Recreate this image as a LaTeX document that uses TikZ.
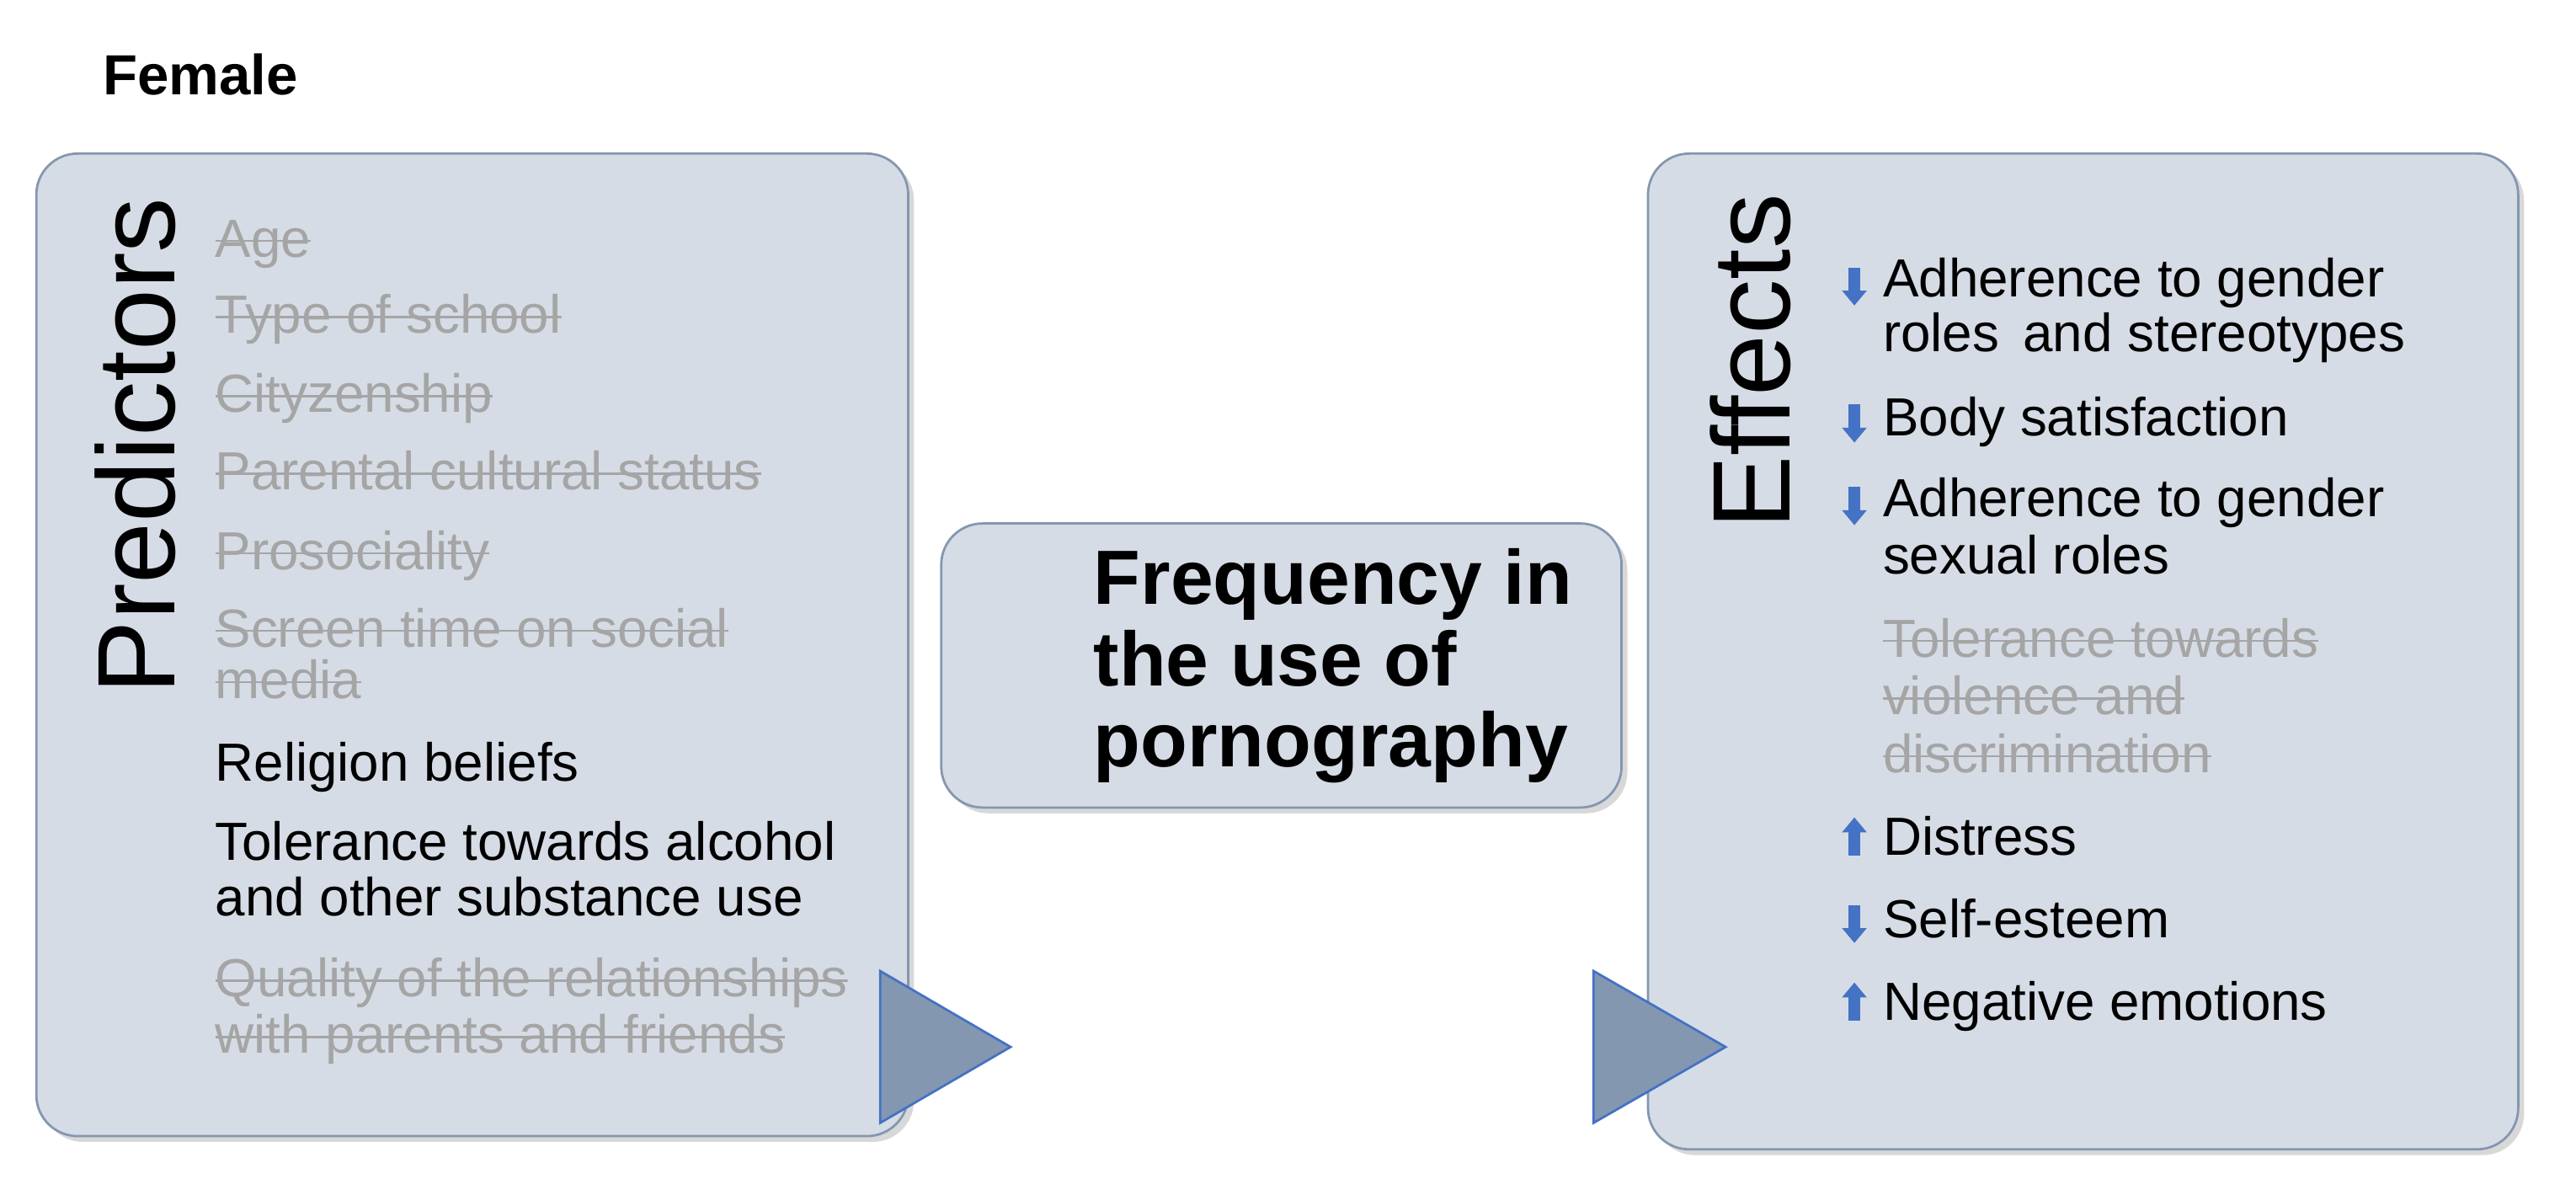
\documentclass[tikz,border=0pt]{standalone}
\usepackage{fontspec}
\setmainfont{Liberation Sans}
\usetikzlibrary{shadows,calc}
\definecolor{boxfill}{RGB}{214,220,229}
\definecolor{boxline}{RGB}{132,151,176}
\definecolor{trifill}{RGB}{132,151,176}
\definecolor{blu}{RGB}{68,114,196}
\definecolor{gr}{RGB}{165,165,165}
\tikzset{
 panel/.style={draw=boxline,fill=boxfill,rounded corners=0.5cm,line width=0.8pt,drop shadow={shadow xshift=2pt,shadow yshift=-2pt,opacity=0.3}},
 item/.style={anchor=west,font=\fontsize{18.5}{21}\selectfont,inner sep=0pt,text height=14pt,text depth=4pt},
 off/.style={item,text=gr,path picture={\draw[gr,line width=0.7pt] ($(path picture bounding box.south west)+(0pt,9.6pt)$) -- ($(path picture bounding box.south east)+(0pt,9.6pt)$);}},
 tri/.style={fill=trifill,draw=blu,line width=0.8pt},
 big/.style={font=\fontsize{38}{40}\selectfont,rotate=90,inner sep=0pt},
}
\newcommand{\uparr}[1]{\fill[blu] ($(#1)+(-3.5,10)$) rectangle ($(#1)+(3.5,-4)$); \fill[blu] ($(#1)+(-7.5,-4)$) -- ($(#1)+(0,-13)$) -- ($(#1)+(7.5,-4)$) -- cycle;}
\newcommand{\dnarr}[1]{\fill[blu] ($(#1)+(-3.5,-10)$) rectangle ($(#1)+(3.5,4)$); \fill[blu] ($(#1)+(-7.5,4)$) -- ($(#1)+(0,13)$) -- ($(#1)+(7.5,4)$) -- cycle;}
\begin{document}
\begin{tikzpicture}[x=0.02cm,y=-0.02cm]
\useasboundingbox[fill=white] (0,0) rectangle (1560,723.6);
\node[anchor=west,font=\fontsize{19.5}{22}\selectfont\bfseries,inner sep=0pt] (fem) at (62,45) {Female};
\draw[panel] (22,93) rectangle (550,688);
\draw[panel] (998,93) rectangle (1525,696);
\draw[panel] (570,317) rectangle (982,489);
\node[big] (pred) at (82,270) {Predictors};
\node[big] (eff) at (1060,219) {Effects};
\node[off] (a1) at (130,147) {Age};
\node[off] (a2) at (130,193) {Type of school};
\node[off] (a3) at (130,241) {Cityzenship};
\node[off] (a4) at (130,288) {Parental cultural status};
\node[off] (a5) at (130,336) {Prosociality};
\node[off] (a6) at (130,383) {Screen time on social};
\node[off] (a7) at (130,414) {media};
\node[item] (a8) at (130,464) {Religion beliefs};
\node[item] (a9) at (130,512) {Tolerance towards alcohol};
\node[item] (a10) at (130,546) {and other substance use};
\node[off] (a11) at (130,595) {Quality of the relationships};
\node[off] (a12) at (130,629) {with parents and friends};
\node[anchor=north west,align=left,font=\fontsize{26.5}{28}\selectfont\bfseries,inner sep=0pt] (freq) at (662,332) {Frequency in\\the use of\\pornography};
\node[item] (e1) at (1140,171) {Adherence to gender};
\node[item] (e2) at (1140,204) {roles\, and stereotypes};
\node[item] (e3) at (1140,255) {Body satisfaction};
\node[item] (e4) at (1140,304) {Adherence to gender};
\node[item] (e5) at (1140,339) {sexual roles};
\node[off] (e6) at (1140,389) {Tolerance towards};
\node[off] (e7) at (1140,424) {violence and};
\node[off] (e8) at (1140,459) {discrimination};
\node[item] (e9) at (1140,509) {Distress};
\node[item] (e10) at (1140,559) {Self-esteem};
\node[item] (e11) at (1140,609) {Negative emotions};
\coordinate (d1) at (1123,172); \dnarr{d1}
\coordinate (d2) at (1123,255); \dnarr{d2}
\coordinate (d3) at (1123,305); \dnarr{d3}
\coordinate (u1) at (1123,508); \uparr{u1}
\coordinate (d4) at (1123,558); \dnarr{d4}
\coordinate (u2) at (1123,608); \uparr{u2}
\draw[tri] (533,588) -- (612,634) -- (533,680) -- cycle;
\draw[tri] (965,588) -- (1045,634) -- (965,680) -- cycle;
\end{tikzpicture}
\end{document}
